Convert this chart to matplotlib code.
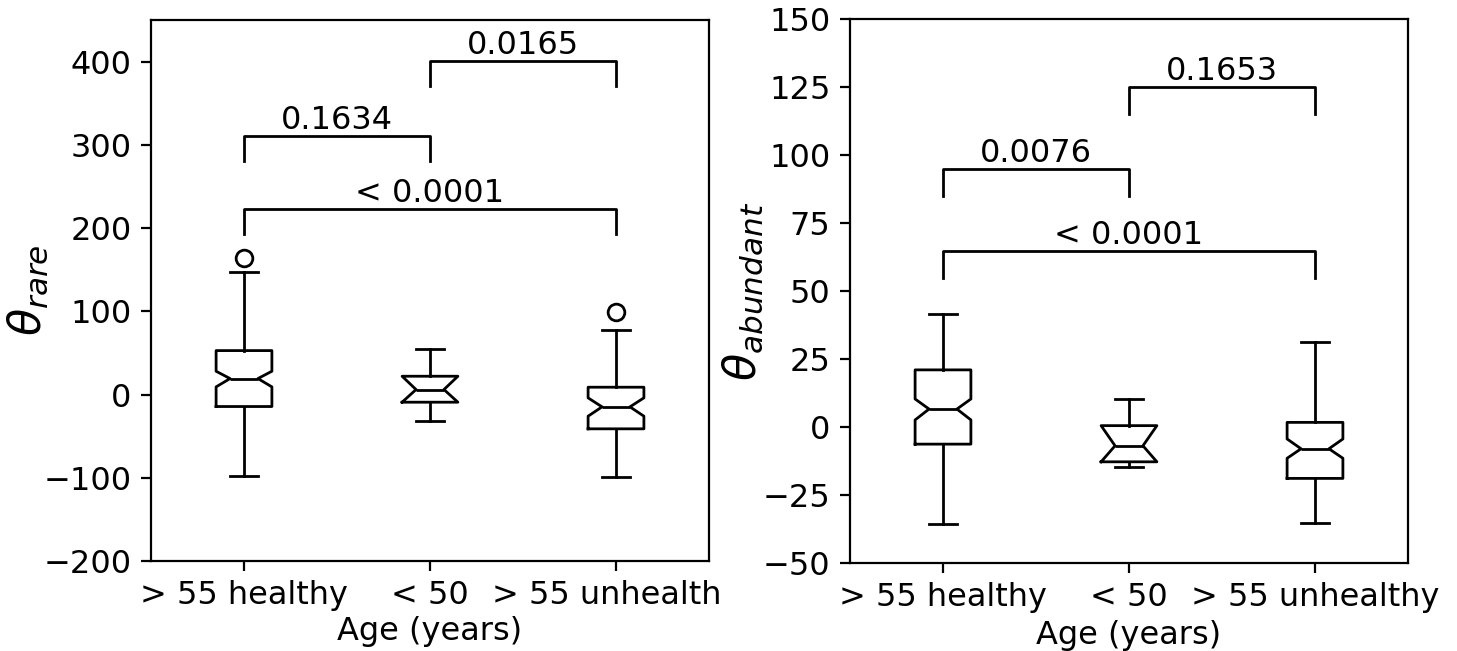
import matplotlib
matplotlib.use('Agg')
import matplotlib.pyplot as plt
from matplotlib.transforms import Bbox, TransformedBbox

categories = ['> 55 healthy', '< 50', '> 55 unhealthy']

# theta_rare box statistics
rare_whislo = [-98.4, -31.2, -98.8]
rare_q1 = [-14.4, -9.2, -41.2]
rare_cilo = [9.2, -9.2, -26.0]
rare_med = [19.2, 6.0, -14.8]
rare_cihi = [28.0, 22.0, -4.0]
rare_q3 = [52.8, 22.0, 8.8]
rare_whishi = [147.7, 54.4, 78.0]
rare_fliers = [[164.0], [], [99.3]]

# theta_abundant box statistics
abun_whislo = [-35.8, -14.6, -35.3]
abun_q1 = [-6.3, -12.8, -18.9]
abun_cilo = [2.6, -12.8, -11.5]
abun_med = [6.6, -6.9, -8.0]
abun_cihi = [10.3, 0.5, -4.4]
abun_q3 = [21.0, 0.5, 1.7]
abun_whishi = [41.7, 10.2, 31.1]
abun_fliers = [[], [], []]

# significance brackets
rare_pairs = [(1, 2), (2, 3), (1, 3)]
rare_tops = [311, 401, 223]
rare_h = [30, 30, 30]
rare_labels = ['0.1634', '0.0165', '< 0.0001']

abun_pairs = [(1, 2), (2, 3), (1, 3)]
abun_tops = [94.9, 124.9, 64.7]
abun_h = [10, 10, 10]
abun_labels = ['0.0076', '0.1653', '< 0.0001']

FS = 11.5


def make_stats(whislo, q1, cilo, med, cihi, q3, whishi, fliers):
    out = []
    for i in range(len(med)):
        out.append(dict(whislo=whislo[i], q1=q1[i], cilo=cilo[i], med=med[i],
                        cihi=cihi[i], q3=q3[i], whishi=whishi[i],
                        fliers=fliers[i], label=categories[i]))
    return out


def draw(ax, stats, pairs, tops, hs, labels, ylabel, ylim, yticks, labx, xpad):
    k = dict(color='black', linewidth=1.0)
    ax.bxp(stats, positions=[1, 2, 3], widths=0.3, shownotches=True,
           boxprops=k, medianprops=k, whiskerprops=k, capprops=k,
           flierprops=dict(marker='o', markerfacecolor='none',
                           markeredgecolor='black', markersize=6))
    for (a, b), t, h, lab in zip(pairs, tops, hs, labels):
        ax.plot([a, a, b, b], [t - h, t, t, t - h], color='black', lw=1.0)
        ax.text((a + b) / 2, t, lab, ha='center', va='bottom', fontsize=FS)
    ax.set_xlim(0.5, 3.5)
    ax.set_ylim(*ylim)
    ax.set_yticks(yticks)
    ax.set_xticks([1, 2, 3])
    ax.set_xticklabels(categories)
    ax.tick_params(labelsize=FS)
    ax.set_xlabel('Age (years)', fontsize=FS, labelpad=xpad)
    ax.set_ylabel(ylabel, fontsize=16)
    ax.yaxis.set_label_coords(labx, 0.5)


fig = plt.figure(figsize=(1457 / 200, 651 / 200), dpi=200)
ax1 = fig.add_axes([151 / 1457, 90 / 651, 558 / 1457, 541 / 651])
ax2 = fig.add_axes([850 / 1457, 88 / 651, 558 / 1457, 544 / 651])

draw(ax1, make_stats(rare_whislo, rare_q1, rare_cilo, rare_med, rare_cihi,
                     rare_q3, rare_whishi, rare_fliers),
     rare_pairs, rare_tops, rare_h, rare_labels, r'$\theta_{rare}$',
     (-200, 450), [-200, -100, 0, 100, 200, 300, 400], -0.181, 1.5)
draw(ax2, make_stats(abun_whislo, abun_q1, abun_cilo, abun_med, abun_cihi,
                     abun_q3, abun_whishi, abun_fliers),
     abun_pairs, abun_tops, abun_h, abun_labels, r'$\theta_{abundant}$',
     (-50, 150), [-50, -25, 0, 25, 50, 75, 100, 125, 150], -0.152, 2.5)

fig.canvas.draw()
clip = TransformedBbox(Bbox([[0, 0], [720 / 1457, 1]]), fig.transFigure)
for lbl in ax1.get_xticklabels():
    lbl.set_clip_box(clip)
    lbl.set_clip_on(True)

fig.savefig('out.png', dpi=200)
